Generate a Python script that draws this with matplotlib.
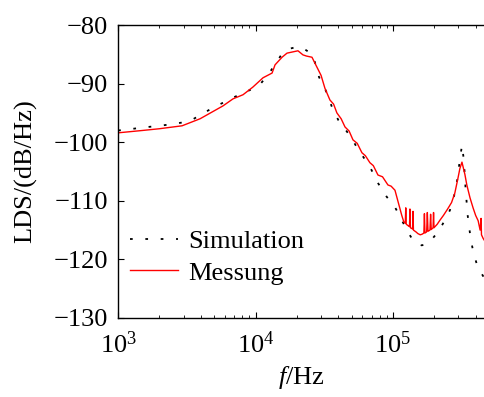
import matplotlib
matplotlib.use('Agg')
import matplotlib.pyplot as plt

plt.rcParams['font.family'] = ['Liberation Serif', 'DejaVu Serif']
plt.rcParams['mathtext.fontset'] = 'custom'
plt.rcParams['mathtext.rm'] = 'Liberation Serif'
plt.rcParams['mathtext.it'] = 'Liberation Serif:italic'

# Messung (measured), frequency in Hz, LDS in dB/Hz
f_mess = [1000, 1500, 2000, 2920, 3950, 5800, 6860, 8110, 9560, 11350, 13200, 13870,
          15600, 16950, 20370, 22150, 23500, 25760, 28000, 30000, 32000, 34800, 37000,
          39100, 42000, 44800, 48000, 51200, 55000, 59500, 63000, 68000, 72000, 77800,
          84000, 92000, 97000, 103500, 110000, 116000, 120000, 123000, 124000, 125000,
          130000, 132000, 133000, 134000, 139000, 140000, 141000, 147000, 152000,
          158000, 163000, 168000, 169500, 171000, 176000, 178000, 180000, 186000,
          188000, 190000, 196000, 197500, 199000, 210000, 220000, 233000, 250000,
          267000, 282000, 297000, 307000, 318000, 334000, 345000, 364000, 383000,
          400000, 417000, 431000, 438000, 441000, 453000, 470000]
lds_mess = [-98.4, -98.0, -97.7, -97.2, -96.0, -93.8, -92.6, -91.9, -90.6, -89.0, -88.2, -86.8,
            -85.5, -84.8, -84.4, -85.1, -85.3, -85.5, -87.2, -88.6, -90.8, -92.8, -93.5,
            -95.0, -96.0, -97.4, -98.1, -99.6, -100.2, -101.8, -102.3, -103.5, -104.0, -105.6,
            -105.9, -107.3, -107.5, -108.2, -110.5, -112.5, -113.6, -113.8, -111.2, -114.0,
            -114.3, -114.4, -111.4, -114.6, -114.8, -111.8, -115.0, -115.3, -115.6,
            -115.8, -115.7, -115.5, -112.2, -115.5, -115.3, -112.0, -115.2, -115.0,
            -112.3, -114.9, -114.6, -112.0, -114.6, -114.0, -113.3, -112.5, -111.4,
            -110.3, -108.7, -106.2, -104.5, -103.4, -105.5, -107.3, -109.5, -111.2,
            -112.5, -113.4, -115.0, -113.0, -115.8, -116.4, -117.0]

# Simulation
f_sim = [1000, 1200, 1500, 2000, 2500, 3000, 3500, 4000, 5000, 6000, 7000, 8000, 9500,
         11000, 12500, 14000, 15500, 18000, 20500, 23000, 25500, 27000, 29000, 32000,
         36000, 40000, 45000, 50000, 55000, 60000, 68000, 78000, 90000, 103500, 114000,
         126000, 138000, 150000, 162000, 175000, 190000, 215000, 235000, 260000, 282000,
         295000, 305000, 318000, 328000, 338000, 350000, 368000, 385000, 410000, 431000,
         460000, 470000]
lds_sim = [-98.0, -97.8, -97.5, -97.2, -96.9, -96.6, -96.1, -95.3, -94.0, -93.1, -92.3, -91.7, -90.9,
           -89.9, -88.3, -86.6, -85.0, -84.0, -83.7, -84.2, -84.9, -86.3, -88.9, -90.8,
           -94.0, -96.2, -97.8, -99.3, -101.0, -102.3, -104.2, -107.0, -109.3, -111.1, -112.9,
           -115.0, -116.5, -117.4, -117.6, -117.4, -116.7, -115.2, -113.6, -111.6, -108.7,
           -106.2, -103.5, -100.5, -103.0, -108.0, -112.5, -116.5, -118.8, -121.0, -122.0,
           -123.1, -123.3]

fig = plt.figure(figsize=(4.84, 3.97), dpi=100)
ax = fig.add_axes([0.244, 0.199, 0.756, 0.738])

ax.plot(f_sim, lds_sim, color='black', lw=1.3, linestyle=(0, (1.5, 7)), label='Simulation')
ax.plot(f_mess, lds_mess, color='red', lw=1.0, label='Messung')

ax.set_xscale('log')
ax.set_xlim(1e3, 4.6e5)
ax.set_ylim(-130, -80)
ax.set_yticks([-130, -120, -110, -100, -90, -80])

ax.spines['right'].set_visible(False)
for s in ['left', 'top', 'bottom']:
    ax.spines[s].set_linewidth(1.0)

ax.tick_params(which='both', direction='in', top=True, right=False, labelsize=19)
ax.tick_params(which='major', length=4, width=0.8, pad=7)
ax.tick_params(axis='x', which='major', pad=10)
ax.tick_params(which='minor', length=2.5, width=0.6)

ax.set_xlabel('$f$/Hz', fontsize=19, labelpad=4)
ax.set_ylabel('LDS/(dB/Hz)', fontsize=19, labelpad=12)

ax.legend(loc='lower left', bbox_to_anchor=(-0.01, 0.06), frameon=False, fontsize=19,
          handlelength=1.8, handletextpad=0.4, labelspacing=0.3, borderaxespad=0.2)

fig.savefig('out.png', dpi=100)
